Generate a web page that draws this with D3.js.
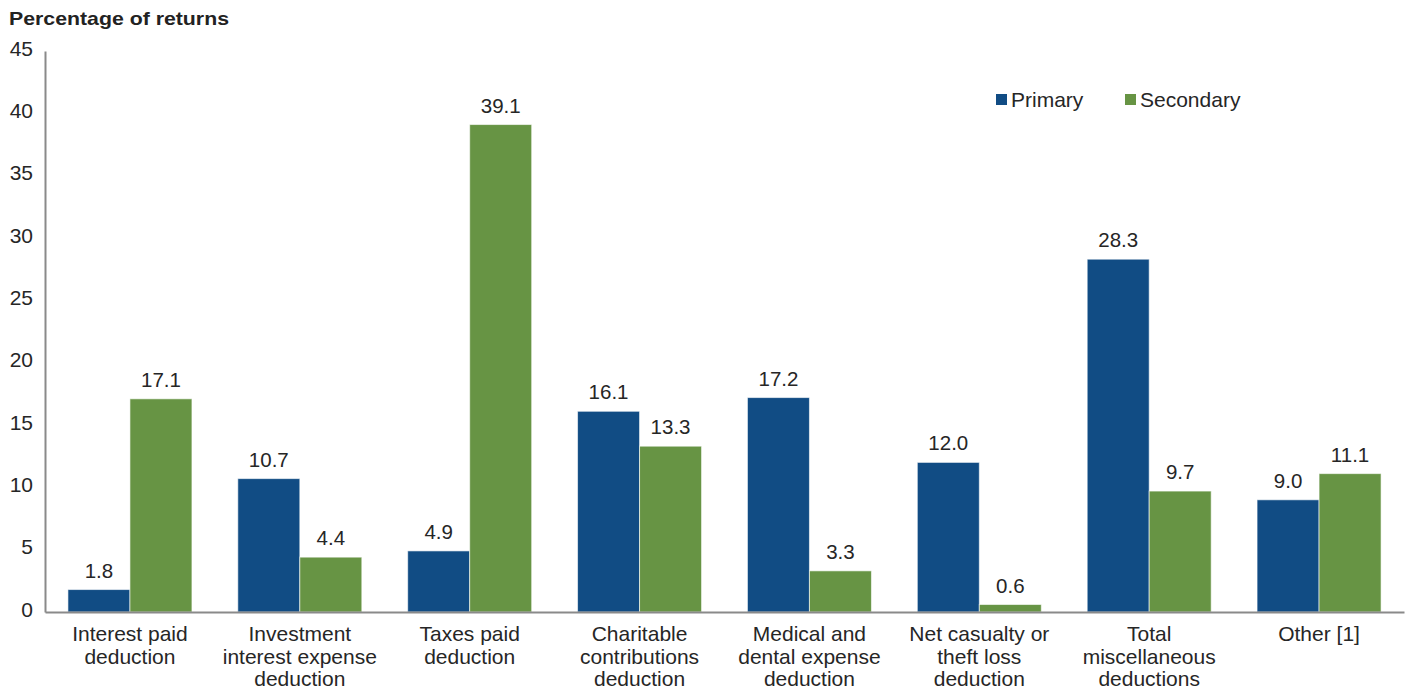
<!DOCTYPE html>
<html>
<head>
<meta charset="utf-8">
<script src="https://cdn.jsdelivr.net/npm/d3@7"></script>
<style>
  html, body { margin: 0; padding: 0; background: #fff; }
  svg { display: block; font-family: "Liberation Sans", Arial, sans-serif; }
</style>
</head>
<body>
<svg id="chart" width="1408" height="692"></svg>
<script>
// Deduction categories (multi-line labels)
const categories = [
  ["Interest paid", "deduction"],
  ["Investment", "interest expense", "deduction"],
  ["Taxes paid", "deduction"],
  ["Charitable", "contributions", "deduction"],
  ["Medical and", "dental expense", "deduction"],
  ["Net casualty or", "theft loss", "deduction"],
  ["Total", "miscellaneous", "deductions"],
  ["Other [1]"]
];
const seriesNames = ["Primary", "Secondary"];
const primary   = [1.8, 10.7, 4.9, 16.1, 17.2, 12.0, 28.3, 9.0];
const secondary = [17.1, 4.4, 39.1, 13.3, 3.3, 0.6, 9.7, 11.1];
const yTicks = [0, 5, 10, 15, 20, 25, 30, 35, 40, 45];
const colors = ["#114c84", "#679444"];

const svg = d3.select("#chart");
const plotLeft = 45, plotRight = 1404, plotTop = 51, plotBottom = 612;

const x = d3.scaleBand()
  .domain(d3.range(categories.length))
  .range([plotLeft, plotRight])
  .paddingInner(0.27)
  .paddingOuter(0.135);
const xs = d3.scaleBand().domain([0, 1]).range([0, x.bandwidth()]);
const y = d3.scaleLinear().domain([0, 45]).range([plotBottom, plotTop]);

const rows = categories.map((c, i) => ({ i, values: [primary[i], secondary[i]] }));

// Bars
const groups = svg.append("g").selectAll("g")
  .data(rows).join("g")
  .attr("transform", d => `translate(${x(d.i)},0)`);

groups.selectAll("rect")
  .data(d => d.values.map((v, s) => ({ v, s })))
  .join("rect")
  .attr("x", d => xs(d.s))
  .attr("width", xs.bandwidth())
  .attr("y", d => y(d.v))
  .attr("height", d => y(0) - y(d.v))
  .attr("fill", d => colors[d.s])
  .attr("stroke", "#ffffff")
  .attr("stroke-opacity", 0.6)
  .attr("stroke-width", 1);

// Value labels
groups.selectAll("text")
  .data(d => d.values.map((v, s) => ({ v, s })))
  .join("text")
  .attr("x", d => xs(d.s) + xs.bandwidth() / 2)
  .attr("y", d => y(d.v) - 12)
  .attr("text-anchor", "middle")
  .attr("font-size", 20.5)
  .attr("fill", "#262626")
  .text(d => d.v.toFixed(1));

// Y axis
const yAxis = d3.axisLeft(y).tickValues(yTicks).tickSize(0).tickPadding(12);
const gy = svg.append("g").attr("transform", `translate(${plotLeft},0)`).call(yAxis);
gy.select(".domain").attr("stroke", "#8a8a8a").attr("stroke-width", 2);
gy.selectAll("text").attr("font-size", 21).attr("fill", "#262626")
  .attr("font-family", "Liberation Sans, Arial, sans-serif")
  .attr("dy", "0.2em");

// X axis
const xAxis = d3.axisBottom(x).tickSize(0).tickFormat("");
const gx = svg.append("g").attr("transform", `translate(0,${plotBottom})`).call(xAxis);
gx.select(".domain").attr("stroke", "#8a8a8a").attr("stroke-width", 2);

// Category labels
svg.append("g").selectAll("text")
  .data(categories.map((c, i) => ({ c, i })))
  .join("text")
  .attr("x", d => x(d.i) + x.bandwidth() / 2)
  .attr("y", 641)
  .attr("text-anchor", "middle")
  .attr("font-size", 21)
  .attr("fill", "#262626")
  .selectAll("tspan")
  .data(d => d.c.map(line => ({ line, cx: x(d.i) + x.bandwidth() / 2 })))
  .join("tspan")
  .attr("x", d => d.cx)
  .attr("dy", (d, k) => k === 0 ? 0 : 22.5)
  .text(d => d.line);

// Title
svg.append("text")
  .attr("x", 9).attr("y", 25)
  .attr("font-size", 19)
  .attr("font-weight", "bold")
  .attr("fill", "#222")
  .attr("textLength", 220)
  .attr("lengthAdjust", "spacingAndGlyphs")
  .text("Percentage of returns");

// Legend
const legendX = [996, 1125];
const legend = svg.append("g").selectAll("g")
  .data(seriesNames.map((n, s) => ({ n, s })))
  .join("g")
  .attr("transform", d => `translate(${legendX[d.s]},94)`);
legend.append("rect").attr("width", 11).attr("height", 11).attr("fill", d => colors[d.s]);
legend.append("text")
  .attr("x", 15).attr("y", 13)
  .attr("font-size", 21)
  .attr("fill", "#262626")
  .text(d => d.n);
</script>
</body>
</html>
